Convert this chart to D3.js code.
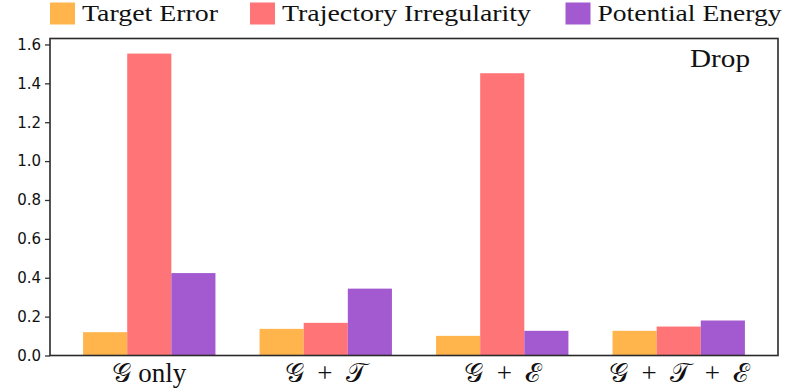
<!DOCTYPE html>
<html>
<head>
<meta charset="utf-8">
<script src="https://cdn.jsdelivr.net/npm/d3@7"></script>
<style>
  body { margin: 0; background: #fff; }
  svg { display: block; }
</style>
</head>
<body>
<svg id="chart" width="791" height="389"></svg>
<script>
/* chart data */

const groups = ["\u{1D4A2} only", "\u{1D4A2}\u2002+\u2002\u{1D4AF}", "\u{1D4A2}\u2002+\u2002\u2130", "\u{1D4A2}\u2002+\u2002\u{1D4AF}\u2002+\u2002\u2130"];
const seriesNames = ["Target Error", "Trajectory Irregularity", "Potential Energy"];
const targetError = [0.12, 0.137, 0.101, 0.127];
const trajIrregularity = [1.553, 0.168, 1.452, 0.149];
const potentialEnergy = [0.424, 0.344, 0.127, 0.18];
const yTicks = [0.0, 0.2, 0.4, 0.6, 0.8, 1.0, 1.2, 1.4, 1.6];

const colors = ["#FFB54C", "#FF7477", "#A35AD0"];
const series = [targetError, trajIrregularity, potentialEnergy];

let svg = d3.select("#chart");

let plotLeft = 50, plotRight = 778, plotTop = 38.5, plotBottom = 355.5;
let barW = 0.25;
let serif = "'Liberation Serif', 'Times New Roman', serif";

let x = d3.scaleLinear()
  .domain([-0.5625, 3.5625])
  .range([plotLeft, plotRight]);

let ymax = d3.max(series.flat()) * 1.05;
let y = d3.scaleLinear()
  .domain([0, ymax])
  .range([plotBottom, plotTop]);

// bars
series.forEach(function (vals, si) {
  svg.append("g")
    .attr("class", "series")
    .selectAll("rect")
    .data(vals)
    .enter().append("rect")
    .attr("x", (d, i) => x(i + (si - 1) * barW - barW / 2))
    .attr("width", x(barW) - x(0))
    .attr("y", d => y(d))
    .attr("height", d => y(0) - y(d))
    .attr("fill", colors[si]);
});

// y axis
let yAxis = d3.axisLeft(y)
  .tickValues(yTicks)
  .tickFormat(d3.format(".1f"))
  .tickSize(5)
  .tickPadding(4);

let yg = svg.append("g")
  .attr("transform", "translate(" + plotLeft + ",0)")
  .call(yAxis);
yg.select(".domain").remove();
yg.selectAll("line").attr("stroke", "#333").attr("stroke-width", 1.3);
yg.selectAll("text")
  .attr("font-family", "DejaVu Sans")
  .attr("font-size", "15px")
  .attr("fill", "#111");

// frame
svg.append("rect")
  .attr("x", plotLeft)
  .attr("y", plotTop)
  .attr("width", plotRight - plotLeft)
  .attr("height", plotBottom - plotTop)
  .attr("fill", "none")
  .attr("stroke", "#2a2a2a")
  .attr("stroke-width", 1.6);

// x labels
svg.append("g")
  .selectAll("text")
  .data(groups)
  .enter().append("text")
  .attr("x", (d, i) => x(i))
  .attr("y", 382)
  .attr("text-anchor", "middle")
  .attr("font-family", serif)
  .attr("font-size", "27px")
  .attr("fill", "#111")
  .text(d => d);

// panel label
svg.append("text")
  .attr("x", 690)
  .attr("y", 67)
  .attr("font-family", serif)
  .attr("font-size", "25px")
  .attr("fill", "#111")
  .attr("textLength", 60)
  .attr("lengthAdjust", "spacingAndGlyphs")
  .text("Drop");

// legend
let legendX = [50, 250, 565.5];
let legendW = [136, 249, 184];
let leg = svg.append("g").attr("class", "legend");
seriesNames.forEach(function (name, i) {
  leg.append("rect")
    .attr("x", legendX[i])
    .attr("y", 2.5)
    .attr("width", 25)
    .attr("height", 22)
    .attr("fill", colors[i]);
  leg.append("text")
    .attr("x", legendX[i] + 32)
    .attr("y", 20.5)
    .attr("font-family", serif)
    .attr("font-size", "24px")
    .attr("fill", "#111")
    .attr("textLength", legendW[i])
    .attr("lengthAdjust", "spacingAndGlyphs")
    .text(name);
});
</script>
</body>
</html>
